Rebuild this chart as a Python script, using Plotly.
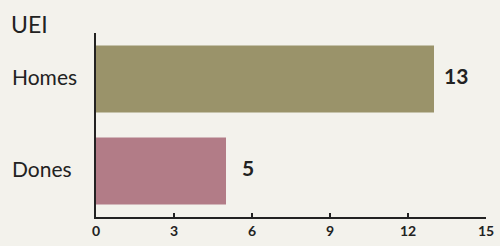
import plotly.graph_objects as go

categories = ["Dones", "Homes"]
values = [5, 13]
colors = ["#b27c87", "#9a936a"]
x_ticks = [0, 3, 6, 9, 12, 15]
title_text = "UEI"

BG = "#f3f2ec"
INK = "#222222"

fig = go.Figure()
fig.add_trace(go.Bar(
    x=values, y=categories, orientation="h",
    marker=dict(color=colors, line=dict(width=0)),
    hoverinfo="skip",
))

annotations = []
for c, v in zip(categories, values):
    annotations.append(dict(
        x=v, y=c, xref="x", yref="y", text=str(v), showarrow=False,
        xanchor="center", yanchor="middle", xshift=22, yshift=4,
        font=dict(family="Lato, sans-serif", size=21, color=INK, weight="bold"),
    ))
    annotations.append(dict(
        x=-0.2205, y=c, xref="paper", yref="y", text=c, showarrow=False,
        xanchor="left", yanchor="middle", yshift=3,
        font=dict(family="Lato, sans-serif", size=21, color=INK),
    ))

fig.update_layout(
    width=500, height=246,
    margin=dict(l=96, r=14, t=33, b=29, autoexpand=False),
    paper_bgcolor=BG, plot_bgcolor=BG,
    bargap=0.27,
    showlegend=False,
    title=dict(text=title_text, xref="container", yref="container", x=0.022, y=1 - 24.5 / 246,
               xanchor="left", yanchor="middle", automargin=False,
               font=dict(family="Lato, sans-serif", size=23, color=INK)),
    annotations=annotations,
    xaxis=dict(
        range=[0, 15], tickvals=x_ticks, ticktext=[str(t) for t in x_ticks],
        showgrid=False, zeroline=False, automargin=False,
        showline=True, linecolor=INK, linewidth=2,
        ticks="inside", ticklen=4, tickwidth=2, tickcolor=INK,
        tickfont=dict(family="Lato, sans-serif", size=14, color=INK, weight="bold"),
    ),
    yaxis=dict(
        range=[-0.5, 1.5], showgrid=False, zeroline=False, automargin=False,
        showline=True, linecolor=INK, linewidth=2,
        showticklabels=False, ticks="",
    ),
)

fig.write_html(
    "out.html",
    config={"displayModeBar": False},
    post_script="document.body.style.margin='0';document.body.style.background='%s';" % BG,
)
